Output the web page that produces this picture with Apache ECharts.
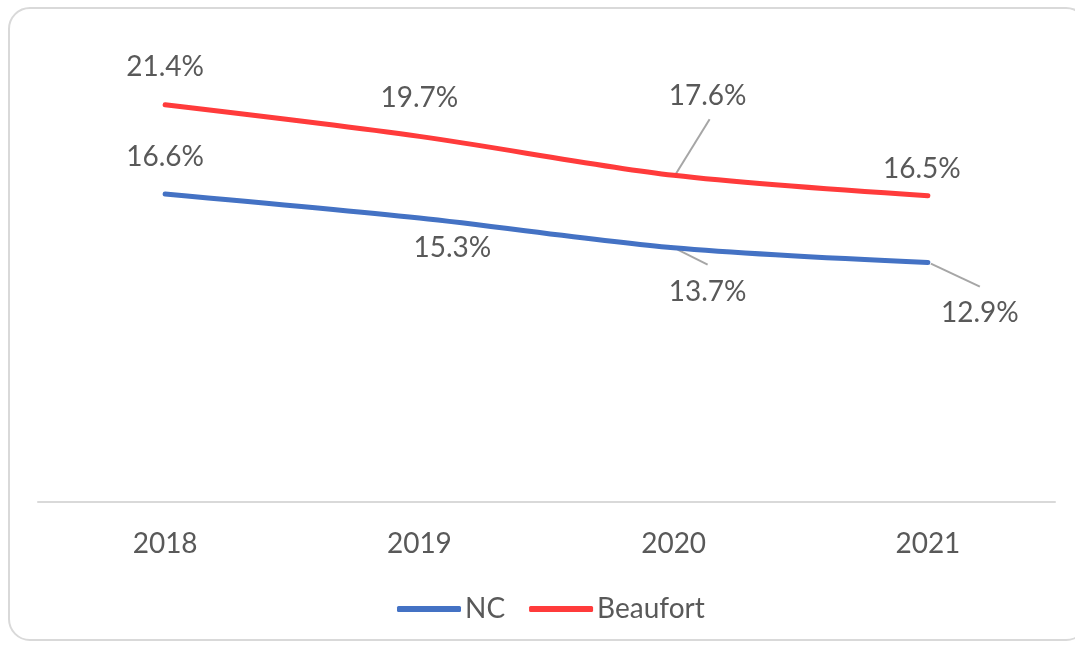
<!DOCTYPE html>
<html>
<head>
<meta charset="utf-8">
<script src="https://cdn.jsdelivr.net/npm/echarts@6/dist/echarts.min.js"></script>
<style>
html,body{margin:0;padding:0;background:#fff;}
#frame{position:absolute;left:8px;top:7px;width:1080px;height:634px;border:2px solid #d9d9d9;border-radius:22px;box-sizing:border-box;}
#chart{position:absolute;left:0;top:0;width:1075px;height:648px;}
</style>
</head>
<body>
<div id="frame"></div>
<div id="chart"></div>
<script>
const categories = ['2018', '2019', '2020', '2021'];
const ncValues = [16.6, 15.3, 13.7, 12.9];
const beaufortValues = [21.4, 19.7, 17.6, 16.5];
const seriesNames = ['NC', 'Beaufort'];

// label placement (style): offset of label center from point, and leader line [start, end] offsets (or null)
const ncLabelOffsets = [[0, -37], [33, 30], [34, 44], [52, 50]];
const ncLeaders = [null, null, [[4, 2], [34, 17]], [[3, 1], [52, 24]]];
const bLabelOffsets = [[0, -38], [0, -38], [34, -79], [-6, -27]];
const bLeaders = [null, null, [[2, -1], [36, -56]], null];

const FONT = 'Lato';
const FS = 28;
const TXT = '#595959';

function layoutFn(offsets) {
  return function (p) {
    const o = offsets[p.dataIndex];
    const cx = p.rect.x + p.rect.width / 2;
    const cy = p.rect.y + p.rect.height / 2;
    return { x: cx + o[0], y: cy + o[1], align: 'center', verticalAlign: 'middle' };
  };
}
const labelStyle = {
  show: true,
  formatter: p => p.value.toFixed(1) + '%',
  fontFamily: FONT,
  fontSize: FS,
  color: TXT
};

const chart = echarts.init(document.getElementById('chart'));
chart.setOption({
  animation: false,
  grid: { left: 38, right: 20, top: 38, bottom: 146 },
  legend: {
    data: seriesNames,
    bottom: 20,
    left: 392,
    itemWidth: 64,
    itemHeight: 6,
    itemGap: 24,
    textStyle: { fontFamily: FONT, fontSize: FS, color: TXT, padding: [0, 0, 0, -1] },
    icon: 'roundRect'
  },
  xAxis: {
    type: 'category',
    data: categories,
    boundaryGap: true,
    axisLine: { lineStyle: { color: '#d9d9d9', width: 2 } },
    axisTick: { show: false },
    axisLabel: { fontFamily: FONT, fontSize: FS, color: TXT, margin: 28 }
  },
  yAxis: {
    type: 'value', min: 0, max: 25, show: false,
    splitLine: { show: false }
  },
  series: [
    {
      name: 'NC', type: 'line', smooth: 0.3,
      data: ncValues,
      symbol: 'circle', symbolSize: 1, showSymbol: true,
      itemStyle: { color: '#4472c4' },
      lineStyle: { color: '#4472c4', width: 5, cap: 'round' },
      label: labelStyle,
      labelLayout: layoutFn(ncLabelOffsets)
    },
    {
      name: 'Beaufort', type: 'line', smooth: 0.3,
      data: beaufortValues,
      symbol: 'circle', symbolSize: 1, showSymbol: true,
      itemStyle: { color: '#ff3b3b' },
      lineStyle: { color: '#ff3b3b', width: 5, cap: 'round' },
      label: labelStyle,
      labelLayout: layoutFn(bLabelOffsets)
    }
  ]
});

// leader lines anchored at points found through the chart's own scales
const graphics = [];
[[0, ncValues, ncLeaders], [1, beaufortValues, bLeaders]].forEach(([si, vals, leaders]) => {
  vals.forEach((v, i) => {
    const l = leaders[i];
    if (!l) return;
    const pt = chart.convertToPixel({ seriesIndex: si }, [i, v]);
    graphics.push({
      type: 'line', z: 1, silent: true,
      shape: { x1: pt[0] + l[0][0], y1: pt[1] + l[0][1], x2: pt[0] + l[1][0], y2: pt[1] + l[1][1] },
      style: { stroke: '#a6a6a6', lineWidth: 2 }
    });
  });
});
chart.setOption({ graphic: graphics });
</script>
</body>
</html>
